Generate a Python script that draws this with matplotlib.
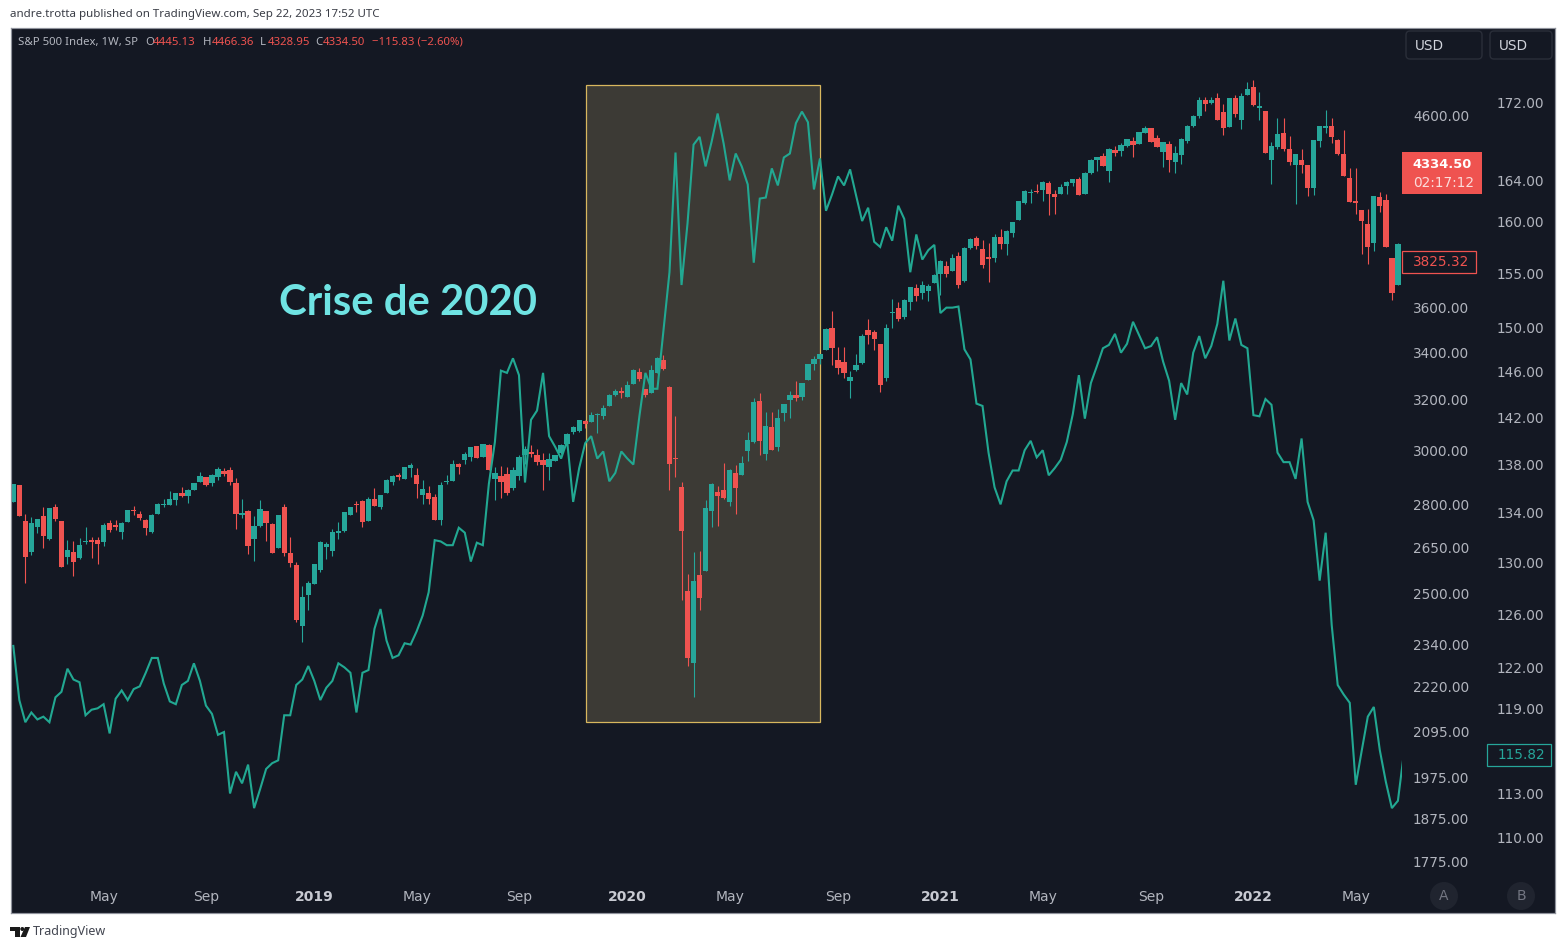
import numpy as np
import matplotlib
matplotlib.use("Agg")
import matplotlib.pyplot as plt
from matplotlib.patches import Rectangle, FancyBboxPatch, Circle, Polygon

W, H = 1566, 949
BG = '#141823'
GREEN = '#26a69a'
RED = '#ef5350'
LINE = '#22a892'
GREY = '#b2b5be'

opens = [2808,2869,2740,2634,2719,2758,2678,2790,2740,2617,2634,2614,2668,2675,2675,2668,2733,2726,2702,2737,2779,2765,2744,2702,2765,2797,2797,2815,2840,2832,2851,2880,2899,2877,2899,2921,2925,2877,2762,2776,2678,2723,2776,2730,2648,2790,2631,2590,2398,2495,
2530,2576,2652,2639,2701,2707,2763,2803,2813,2741,2820,2792,2841,2882,2908,2892,2934,2908,2835,2842,2828,2746,2882,2886,2949,2964,2975,3018,2975,3021,2892,2904,2912,2860,2904,2983,2994,2983,2964,2938,2960,2990,3025,3072,3076,3115,3111,3139,
3135,3175,3220,3237,3212,3266,3316,3245,3228,3312,3368,3253,2972,2864,2507,2287,2558,2572,2776,2845,2853,2809,2915,2907,2998,3033,3196,2987,3092,3014,3147,3200,3220,3212,3282,3349,3370,3411,3509,3368,3360,3278,3325,3356,3500,3491,3437,3290,
3577,3600,3559,3628,3693,3670,3679,3717,3760,3799,3775,3847,3726,3887,3937,3882,3842,3837,3942,3907,3962,4028,4117,4170,4180,4185,4224,4165,4165,4207,4224,4245,4165,4278,4349,4371,4288,4405,4399,4428,4457,4440,4502,4531,4474,4394,4440,4337,
4377,4455,4542,4601,4695,4677,4706,4624,4538,4706,4577,4724,4773,4647,4630,4350,4422,4501,4411,4321,4350,4321,4196,4455,4530,4542,4462,4383,4250,4126,4080,4008,3912,4148,4132,3836,3708]
highs = [2873,2869,2765,2754,2747,2790,2786,2801,2740,2675,2671,2681,2719,2685,2685,2733,2744,2744,2737,2779,2793,2776,2747,2765,2804,2818,2847,2840,2862,2855,2877,2917,2899,2910,2939,2932,2939,2895,2818,2779,2758,2815,2776,2733,2762,2801,2685,2600,2522,2538,
2596,2673,2670,2714,2739,2774,2792,2813,2817,2827,2860,2834,2892,2908,2915,2938,2953,2934,2889,2867,2839,2882,2908,2964,2952,2994,3014,3018,3025,3025,2938,2942,2938,2938,2983,3018,3021,3006,2990,2990,2983,3025,3066,3096,3119,3119,3151,3147,
3179,3224,3245,3253,3278,3329,3333,3245,3347,3381,3390,3257,3135,2882,2562,2635,2639,2816,2878,2867,2951,2929,2945,2980,3070,3208,3228,3151,3151,3163,3183,3237,3278,3270,3349,3383,3392,3509,3586,3424,3424,3322,3392,3482,3550,3500,3437,3527,
3642,3628,3640,3697,3711,3726,3711,3760,3826,3823,3857,3867,3890,3937,3947,3927,3910,3957,3982,3977,4018,4124,4185,4190,4217,4234,4234,4185,4217,4232,4245,4256,4284,4354,4365,4388,4413,4428,4445,4468,4480,4508,4543,4531,4491,4451,4457,4428,
4472,4550,4607,4714,4714,4714,4737,4671,4706,4724,4737,4804,4816,4743,4630,4450,4586,4586,4484,4383,4411,4321,4462,4542,4636,4586,4467,4517,4304,4304,4080,4085,4153,4175,4164,3836,3912]
lows = [2808,2758,2531,2624,2698,2648,2675,2740,2584,2594,2554,2610,2661,2614,2594,2654,2702,2709,2678,2737,2762,2744,2692,2698,2765,2790,2797,2797,2825,2804,2851,2880,2865,2865,2888,2903,2869,2712,2751,2627,2603,2719,2671,2631,2648,2621,2584,2408,2347,2445,
2530,2569,2612,2622,2680,2704,2763,2774,2721,2741,2795,2785,2841,2871,2889,2892,2901,2824,2800,2803,2746,2729,2875,2886,2912,2949,2960,2971,2975,2927,2817,2824,2834,2853,2889,2950,2975,2945,2853,2889,2960,2985,3025,3064,3072,3089,3111,3068,
3123,3175,3217,3207,3212,3266,3278,3212,3228,3312,3325,2853,2900,2478,2278,2190,2446,2572,2722,2725,2820,2794,2767,2907,2961,3029,2984,2964,3003,2998,3115,3127,3195,3200,3282,3325,3349,3411,3347,3306,3290,3207,3322,3349,3437,3411,3233,3278,
3509,3541,3550,3591,3633,3642,3633,3717,3660,3746,3775,3693,3721,3882,3882,3789,3721,3818,3882,3852,3942,4028,4112,4117,4170,4124,4054,4060,4165,4165,4207,4159,4165,4273,4288,4316,4229,4371,4371,4423,4365,4440,4502,4451,4423,4307,4284,4278,
4326,4444,4538,4589,4630,4671,4579,4490,4538,4595,4525,4724,4659,4577,4389,4219,4411,4400,4321,4110,4277,4155,4160,4421,4501,4444,4377,4261,4121,4057,3857,3808,3872,4070,3890,3637,3708]
closes = [2873,2758,2617,2733,2747,2688,2786,2747,2584,2641,2600,2658,2671,2668,2661,2726,2709,2719,2733,2779,2776,2751,2716,2762,2801,2801,2818,2840,2829,2851,2877,2903,2869,2906,2928,2910,2880,2765,2769,2654,2723,2783,2733,2631,2762,2631,2597,2414,2486,2531,
2596,2670,2663,2704,2707,2774,2792,2799,2739,2820,2795,2834,2889,2904,2901,2938,2945,2875,2857,2821,2746,2871,2886,2949,2938,2986,3014,2971,3025,2927,2915,2882,2841,2927,2975,3006,2986,2956,2945,2967,2983,3021,3064,3092,3119,3104,3139,3143,
3167,3220,3237,3228,3262,3325,3286,3220,3325,3377,3329,2949,2968,2707,2302,2539,2484,2787,2874,2830,2824,2926,2860,2953,3041,3192,3037,3096,3003,3127,3183,3220,3207,3270,3349,3370,3392,3505,3420,3333,3312,3297,3347,3473,3478,3460,3262,3509,
3582,3550,3637,3697,3656,3707,3702,3755,3823,3760,3837,3707,3887,3932,3897,3804,3833,3942,3907,3972,4018,4124,4180,4175,4175,4229,4165,4149,4201,4229,4245,4159,4278,4349,4365,4316,4410,4388,4434,4468,4434,4508,4531,4451,4423,4451,4349,4388,
4467,4539,4601,4695,4671,4695,4579,4532,4706,4612,4718,4761,4665,4659,4389,4428,4495,4411,4338,4383,4321,4196,4462,4542,4542,4478,4383,4261,4121,4116,4021,3890,4153,4100,3890,3670,3907]
symbol_b = [123.6,119.6,118.0,118.7,118.2,118.4,118.0,119.8,120.2,121.9,
121.1,120.9,118.5,118.9,119.0,119.3,117.2,119.7,120.3,119.6,
120.4,120.6,121.6,122.7,122.7,120.8,119.5,119.3,120.7,121.0,
122.3,121.0,119.2,118.6,117.1,117.3,113.0,114.5,113.7,115.0,
112.0,113.3,114.7,115.1,115.3,118.5,118.5,120.7,121.1,122.1,
121.0,119.6,120.5,121.0,122.3,122.0,121.6,118.7,121.6,121.8,
124.9,126.4,124.0,122.7,122.9,123.8,123.7,124.7,125.9,127.7,
131.8,131.7,131.4,131.4,132.8,132.4,130.1,131.6,131.4,136.4,
139.9,146.1,145.9,147.2,145.7,136.5,141.8,142.6,145.9,140.4,
139.5,138.5,140.0,134.9,137.7,139.8,140.4,138.5,139.1,136.6,
137.3,139.1,138.5,138.0,142.1,145.9,144.5,144.5,149.7,155.1,
166.8,153.9,159.8,167.6,168.4,165.4,167.9,170.8,167.7,164.0,
166.7,165.4,163.6,156.0,162.2,162.3,165.2,163.5,166.3,166.7,
169.8,171.0,169.9,163.1,166.2,161.0,162.6,164.4,163.5,165.1,
162.5,160.0,161.3,158.0,157.5,159.4,158.1,161.5,160.2,155.1,
158.7,156.3,157.2,157.7,151.3,151.8,151.8,151.9,148.0,147.1,
143.2,143.0,139.0,136.1,134.7,136.6,137.5,137.5,139.2,140.0,
138.6,139.2,137.1,137.7,138.4,139.9,142.3,145.7,141.9,145.0,
146.5,148.1,148.4,149.4,147.7,148.5,150.5,149.3,148.1,148.3,
149.1,146.9,145.2,141.8,145.0,144.0,147.7,149.2,147.2,148.3,
150.3,154.3,148.8,150.8,148.4,148.1,142.2,142.1,143.6,143.1,
139.0,138.2,138.2,136.8,140.2,134.9,133.4,128.6,132.4,125.2,
120.7,120.0,119.4,113.6,116.0,118.4,119.1,116.0,113.8,112.0,
112.5,115.82]

left_ticks = [1775,1875,1975,2095,2220,2340,2500,2650,2800,3000,3200,3400,3600,4600]
right_ticks = [110,113,119,122,126,130,134,138,142,146,150,155,160,164,172]
x_tick_pos = [15,32,50,67,84,102,119,137,154,171,189,206,223]
x_tick_labels = ['May','Sep','2019','May','Sep','2020','May','Sep','2021','May','Sep','2022','May']
box_x = (95.1, 134.0)
box_price = (2120, 4786)

# pixel layout of the chart pane
PX0, PX1, PY0, PY1 = 11, 1555, 28, 913
X0, DX = 13.3, 6.02
fig = plt.figure(figsize=(W/100, H/100), dpi=100, facecolor='white')
ax = fig.add_axes([PX0/W, 1-PY1/H, (PX1-PX0)/W, (PY1-PY0)/H], facecolor=BG)
ax.set_yscale('log')
ax.set_xlim((PX0-X0)/DX, (PX1-X0)/DX)
ax.set_ylim(4600*np.exp(-(PY1-116)/782.4), 4600*np.exp(-(PY0-116)/782.4))

o, h, l, c = map(np.asarray, (opens, highs, lows, closes))
xs = np.arange(len(o))
colors = np.where(c >= o, GREEN, RED)

ax.add_patch(Rectangle((box_x[0], box_price[0]), box_x[1]-box_x[0], box_price[1]-box_price[0],
                       facecolor='#3c3a35', edgecolor='#d8b75e', lw=0.9, zorder=1))
ax.vlines(xs, l, h, colors=colors, lw=0.8, zorder=2)
ax.bar(xs, np.abs(c-o), bottom=np.minimum(o, c), width=0.88, color=colors, lw=0, zorder=2.5)

ax2 = ax.twinx()
ax2.set_yscale('log')
ax2.set_ylim(172*np.exp(-(PY1-102)/1646), 172*np.exp(-(PY0-102)/1646))
ax2.set_xlim(ax.get_xlim())
ax2.patch.set_visible(False)
ln, = ax2.plot(np.arange(len(symbol_b)), symbol_b, color=LINE, lw=1.5, zorder=3, solid_joinstyle='miter')
clip = Rectangle((-1, 50), 231.63, 300, transform=ax2.transData)
ln.set_clip_path(clip)

# y axis labels inside the pane, as TradingView draws them
ax.yaxis.tick_right()
ax.yaxis.set_minor_locator(matplotlib.ticker.NullLocator())
ax.yaxis.set_minor_formatter(matplotlib.ticker.NullFormatter())
ax.set_yticks(left_ticks)
ax.set_yticklabels([f'{t:.2f}' for t in left_ticks])
ax.tick_params(axis='y', which='both', length=0, pad=-(PX1-1413)*0.72, labelsize=9.8, labelcolor=GREY)
ax2.yaxis.tick_right()
ax2.yaxis.set_minor_locator(matplotlib.ticker.NullLocator())
ax2.yaxis.set_minor_formatter(matplotlib.ticker.NullFormatter())
ax2.set_yticks(right_ticks)
ax2.set_yticklabels([f'{t:.2f}' for t in right_ticks])
ax2.tick_params(axis='y', which='both', length=0, pad=-(PX1-1497)*0.72, labelsize=9.8, labelcolor=GREY)

ax.set_xticks(x_tick_pos)
ax.set_xticklabels(x_tick_labels)
ax.tick_params(axis='x', length=0, pad=-23*0.72, labelsize=10, labelcolor=GREY)
for t in ax.get_xticklabels():
    if t.get_text().isdigit():
        t.set_fontweight('bold')
        t.set_color('#c8cad2')
for a in (ax, ax2):
    for s in a.spines.values():
        s.set_color('#8f929c')
        s.set_linewidth(0.8)

# overlay in pixel coordinates for chrome
ov = fig.add_axes([0, 0, 1, 1], facecolor='none')
ov.set_xlim(0, W); ov.set_ylim(H, 0); ov.axis('off')
NS = 'Noto Sans'
ov.text(10, 14.5, 'andre.trotta published on TradingView.com, Sep 22, 2023 17:52 UTC', color='#3a3d46',
        fontsize=8.3, family=NS, va='center')
ov.text(18, 42, 'S&P 500 Index, 1W, SP', color=GREY, fontsize=8.2, family=NS, va='center')
for x, s, col in [(145,'O',GREY),(153,'4445.13',RED),(203,'H',GREY),(212,'4466.36',RED),(260,'L',GREY),
                  (268,'4328.95',RED),(315,'C',GREY),(323,'4334.50',RED),(372,'\u2212115.83 (\u22122.60%)',RED)]:
    ov.text(x, 42, s, color=col, fontsize=8.2, family=NS, va='center')

ov.text(279, 303, 'Crise de 2020', color='#6fe3e3', fontsize=30.2, family='Lato', fontweight='bold', va='center')

# USD buttons
for x0, x1, tx in [(1406,1482,1415),(1490,1552,1499)]:
    ov.add_patch(FancyBboxPatch((x0+3,34), x1-x0-6, 22, boxstyle='round,pad=3,rounding_size=4',
                                fc=BG, ec='#2a2e39', lw=1))
    ov.text(tx, 45.5, 'USD', color='#d1d4dc', fontsize=9.8, va='center')

# last price labels
ov.add_patch(Rectangle((1402,152), 80, 42, fc=RED, ec='none'))
ov.text(1442, 164, '4334.50', color='white', fontsize=9.4, fontweight='bold', ha='center', va='center')
ov.text(1444, 183, '02:17:12', color='#fbdcdb', fontsize=9.8, ha='center', va='center')
ov.add_patch(Rectangle((1402,250.5), 74, 22, fc=BG, ec=RED, lw=0.9))
ov.text(1441, 262, '3825.32', color=RED, fontsize=9.8, ha='center', va='center')
ov.add_patch(Rectangle((1486.5,743.5), 64, 22, fc=BG, ec=GREEN, lw=0.9))
ov.text(1521, 755, '115.82', color=GREEN, fontsize=9.8, ha='center', va='center')

# scale mode buttons
for cx, s in [(1444,'A'),(1521,'B')]:
    ov.add_patch(Circle((cx,896), 14, fc='#20242f', ec='none'))
    ov.text(cx, 896, s, color='#737682', fontsize=10, ha='center', va='center')

# footer logo and word
ink = '#1a1a1a'
ov.add_patch(Polygon([(10,927),(19.5,927),(19.5,937),(15,937),(15,931),(10,931)], fc=ink, ec='none'))
ov.add_patch(Circle((22.3,929), 2, fc=ink, ec='none'))
ov.add_patch(Polygon([(25,927),(30,927),(26,937),(20.5,937)], fc=ink, ec='none'))
ov.text(33, 931, 'TradingView', color='#434651', fontsize=9, family=NS, va='center')

fig.savefig('out.png', dpi=100, facecolor='white')
